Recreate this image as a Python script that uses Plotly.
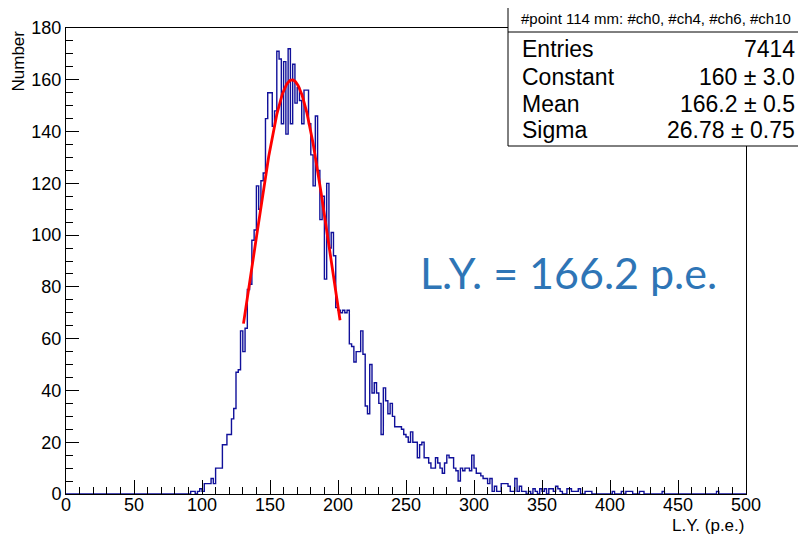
import plotly.graph_objects as go
import numpy as np

# ---------------- data ----------------
x_low, x_high, n_bins = 0.0, 500.0, 300
first_bin = 55  # index of first listed bin
counts_rise = [1, 1, 0, 1, 2, 1, 4, 4, 4, 6, 4, 10, 10, 10, 19, 19, 23, 23, 29, 33,
               47, 48, 63, 55, 64, 79, 81, 98, 102, 119, 110, 121, 124, 145, 155]
counts_peak = [155, 142, 148, 171, 168, 143, 167, 139, 172, 143, 166, 151, 157, 152,
               143, 156, 156, 143, 131, 119, 146, 125, 106, 115, 83, 120, 95, 101, 92]
counts_tail = [72, 71, 70, 71, 70, 71, 58, 57, 51, 55, 55, 63, 54, 34, 31, 50, 39, 43,
               39, 35, 23, 41, 36, 31, 35, 30, 26, 26, 26, 25, 23, 22, 20, 24, 20, 20,
               14, 19, 20, 14, 14, 12, 10, 10, 14, 12, 10, 8, 12, 15, 14, 14, 10, 9,
               5, 10, 9, 10, 10, 9, 15, 10, 8, 8, 7, 6, 6, 4, 6, 1, 3, 1, 1, 4, 4, 4,
               3, 1, 1, 6, 1, 3, 1, 1, 0, 1, 0, 2, 1, 0, 2, 1, 2, 0, 2, 2, 1, 3, 2, 1,
               0, 0, 2, 2, 1, 1, 1, 2, 0, 0, 1, 1, 1, 0, 0, 0, 0, 0, 0, 0, 0, 0, 1, 0,
               0, 0, 1, 0, 1, 1, 1, 0, 0, 0, 1, 1, 0, 0, 0, 0, 0, 0, 0, 0, 1, 0, 0, 0,
               0, 0, 0, 0, 0, 0, 0, 0, 0, 0, 0, 0, 0, 0, 0, 0, 0, 0, 0, 0, 1]

fit_const, fit_mean, fit_sigma = 160.0, 166.2, 26.78
fit_range = (130.5, 201.5)

stats_title = "#point 114 mm: #ch0, #ch4, #ch6, #ch10"
stats_names = ["Entries", "Constant", "Mean", "Sigma"]
stats_values = ["7414", "160 \u00b1 3.0", "166.2 \u00b1 0.5", "26.78 \u00b1 0.75"]
ly_label = "L.Y. = 166.2 p.e."
x_title = "L.Y. (p.e.)"
y_title = "Number"

# ---------------- build histogram ----------------
listed = counts_rise + counts_peak + counts_tail
counts = [0] * first_bin + listed
counts = counts + [0] * (n_bins - len(counts))
counts = counts[:n_bins]
edges = np.linspace(x_low, x_high, n_bins + 1)
hx = list(edges)
hy = counts + [counts[-1]]

fx = np.linspace(fit_range[0], fit_range[1], 300)
fy = fit_const * np.exp(-0.5 * ((fx - fit_mean) / fit_sigma) ** 2)

fig = go.Figure()
fig.add_trace(go.Scatter(x=hx, y=hy, mode="lines", line=dict(shape="hv", color="#10109a", width=1.4),
                         hoverinfo="skip", showlegend=False))
fig.add_trace(go.Scatter(x=fx, y=fy, mode="lines", line=dict(color="#ff0000", width=2.8),
                         hoverinfo="skip", showlegend=False))

OFF = 8  # page body margin
W, H = 798, 526
L, R, T, B = 58, 60, 20, 40
pw, ph = W - L - R, H - T - B

def px(x):
    return (x - OFF - L) / pw

def py(y):
    return (H - B - (y - OFF)) / ph

font_main = "Liberation Sans, Arial, Helvetica, sans-serif"

fig.update_layout(
    width=W, height=H,
    margin=dict(l=L, r=R, t=T, b=B, autoexpand=False),
    paper_bgcolor="white", plot_bgcolor="white",
    showlegend=False,
    font=dict(family=font_main, color="black", size=18),
)
fig.update_xaxes(range=[x_low, x_high], dtick=50, tick0=0, ticks="inside", ticklen=14,
                 tickwidth=1, tickcolor="black", showline=True, linecolor="black", linewidth=1,
                 mirror=True, showgrid=False, zeroline=False, ticklabelstandoff=-6,
                 tickfont=dict(size=18, family=font_main),
                 minor=dict(dtick=10, ticks="inside", ticklen=7, tickcolor="black", showgrid=False))
fig.update_yaxes(range=[0, 180], dtick=20, tick0=0, ticks="inside", ticklen=13,
                 tickwidth=1, tickcolor="black", showline=True, linecolor="black", linewidth=1,
                 mirror=True, showgrid=False, zeroline=False,
                 tickfont=dict(size=18, family=font_main),
                 minor=dict(dtick=5, ticks="inside", ticklen=7, tickcolor="black", showgrid=False))

# stats box
bx0, bx1, by0, by1, bsep = 508, 802, 5, 146, 32
fig.add_shape(type="rect", xref="paper", yref="paper", x0=px(bx0), x1=px(bx1), y0=py(by1), y1=py(by0),
              fillcolor="white", line=dict(color="black", width=1), layer="above")
fig.add_shape(type="line", xref="paper", yref="paper", x0=px(bx0), x1=px(bx1), y0=py(bsep), y1=py(bsep),
              line=dict(color="black", width=1), layer="above")

anns = []
anns.append(dict(text=stats_title, x=px(519), y=py(19), xanchor="left", yanchor="middle",
                 font=dict(size=15, family=font_main)))
rows_y = [49, 77, 104, 130]
for name, val, yy in zip(stats_names, stats_values, rows_y):
    anns.append(dict(text=name, x=px(520), y=py(yy), xanchor="left", yanchor="middle",
                     font=dict(size=23, family=font_main)))
    anns.append(dict(text=val, x=px(797), y=py(yy), xanchor="right", yanchor="middle",
                     font=dict(size=23, family=font_main)))

anns.append(dict(text=ly_label, x=px(418), y=py(272), xanchor="left", yanchor="middle",
                 font=dict(size=43, family="Lato, Open Sans, sans-serif", color="#2e75b6")))
anns.append(dict(text=x_title, x=px(746), y=py(525), xanchor="right", yanchor="middle",
                 font=dict(size=17, family=font_main)))
anns.append(dict(text=y_title, x=px(18), y=py(29), xanchor="center", yanchor="top", textangle=-90,
                 font=dict(size=17, family=font_main)))
for a in anns:
    a.update(xref="paper", yref="paper", showarrow=False)
fig.update_layout(annotations=anns)

fig.write_html("out.html")
